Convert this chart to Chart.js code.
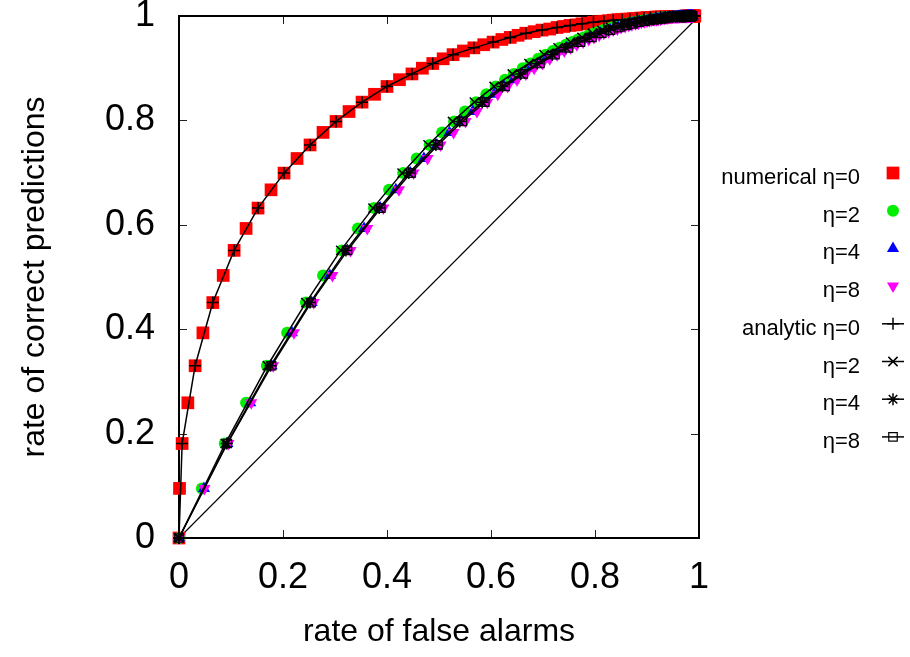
<!DOCTYPE html>
<html><head><meta charset="utf-8">
<script src="https://cdn.jsdelivr.net/npm/chart.js@4/dist/chart.umd.min.js"></script>
<style>html,body{margin:0;padding:0;background:#fff;}canvas{display:block;}</style>
</head><body>
<canvas id="c" width="910" height="657"></canvas>
<script>
// rate of correct predictions (shared by all curves), one per threshold step
const hitRate = [
  0, .095, .181, .259, .330, .393, .451, .503, .551, .593,
  .632, .667, .699, .727, .753, .777, .798, .817, .835, .850,
  .865, .878, .889, .900, .909, .918, .926, .933, .939, .945,
  .950, .955, .959, .963, .967, .970, .973, .975, .978, .980,
  .982, .983, .985, .986, .988, .989, .990, .991, .992, .993,
  .993, .994, .994, .995, .995, .996, .996, .997, .997, .997,
  .998, .998, .998, .998, .998, .998, .999, .999, .999, .999,
  .999, .999, .999, .999, .999, .999, .999, .999, 1, 1,
  1, 1, 1, 1, 1, 1, 1, 1, 1, 1, 1
];
// numerical false alarm rates
const faNum0 = [
  0, .001, .006, .017, .031, .046, .065, .085, .106, .129,
  .152, .177, .202, .227, .252, .277, .302, .327, .352, .376,
  .400, .424, .448, .468, .488, .508, .527, .547, .567, .586,
  .604, .621, .637, .652, .667, .683, .698, .713, .727, .740,
  .752, .764, .775, .786, .797, .807, .817, .826, .835, .844,
  .852, .860, .867, .874, .881, .888, .894, .900, .906, .912,
  .917, .922, .926, .931, .935, .939, .943, .947, .950, .953,
  .956, .959, .962, .965, .967, .969, .971, .973, .975, .977,
  .979, .981, .983, .984, .986, .987, .988, .989, .990, .991, .992
];
const faNum2 = [
  0, .044, .088, .129, .169, .208, .244, .277, .313, .344,
  .375, .404, .431, .457, .482, .506, .529, .550, .571, .591,
  .609, .627, .644, .661, .676, .691, .705, .719, .732, .744,
  .756, .767, .778, .788, .798, .807, .816, .824, .832, .840,
  .847, .854, .861, .867, .874, .879, .885, .890, .895, .900,
  .905, .909, .913, .917, .921, .925, .928, .931, .935, .938,
  .940, .943, .946, .948, .951, .953, .955, .957, .959, .961,
  .963, .965, .966, .968, .969, .971, .972, .973, .974, .976,
  .977, .978, .979, .980, .981, .982, .982, .983, .984, .985, .985
];
const faNum4 = [
  0, .048, .093, .137, .178, .217, .255, .290, .324, .356,
  .387, .417, .445, .471, .496, .520, .543, .565, .586, .606,
  .625, .643, .660, .676, .692, .706, .720, .734, .746, .758,
  .770, .781, .792, .802, .811, .820, .829, .837, .845, .852,
  .859, .866, .872, .878, .884, .890, .895, .900, .905, .909,
  .914, .918, .922, .926, .929, .932, .936, .939, .942, .944,
  .947, .950, .952, .954, .957, .959, .961, .963, .964, .966,
  .968, .969, .971, .972, .973, .975, .976, .977, .978, .979,
  .980, .981, .982, .983, .984, .985, .985, .986, .987, .987, .988
];
const faNum8 = [
  0, .049, .095, .139, .181, .221, .259, .295, .330, .362,
  .393, .423, .451, .478, .503, .528, .551, .573, .593, .613,
  .632, .650, .667, .683, .699, .713, .727, .741, .753, .765,
  .777, .788, .798, .808, .817, .826, .835, .843, .850, .858,
  .865, .871, .878, .884, .889, .895, .900, .905, .909, .914,
  .918, .922, .926, .929, .933, .936, .939, .942, .945, .948,
  .950, .953, .955, .957, .959, .961, .963, .965, .967, .968,
  .970, .971, .973, .974, .975, .976, .978, .979, .980, .981,
  .982, .983, .983, .984, .985, .986, .986, .987, .988, .988, .989
];
// analytic false alarm rates (every second threshold step)
const faAna0 = [
  0, .006, .031, .065, .106, .152, .202, .252, .302, .352,
  .400, .448, .488, .527, .567, .604, .637, .667, .698, .727,
  .752, .775, .797, .817, .835, .852, .867, .881, .894, .906,
  .917, .926, .935, .943, .950, .956, .962, .967, .971, .975,
  .979, .983, .986, .988, .990, .992
];
const faAna2 = [
  0, .089, .170, .244, .311, .373, .429, .479, .526, .568,
  .606, .641, .673, .702, .729, .753, .775, .795, .813, .830,
  .845, .859, .872, .883, .893, .903, .912, .919, .927, .933,
  .939, .945, .950, .954, .958, .962, .965, .968, .971, .974,
  .976, .978, .980, .982, .983, .985
];
const faAna4 = [
  0, .092, .176, .252, .321, .385, .442, .494, .540, .583,
  .622, .657, .689, .718, .744, .767, .789, .809, .826, .843,
  .857, .870, .882, .893, .903, .912, .920, .927, .934, .940,
  .945, .950, .955, .959, .963, .966, .969, .972, .975, .977,
  .979, .981, .983, .984, .986, .987
];
const faAna8 = [
  0, .093, .178, .254, .324, .388, .446, .498, .545, .588,
  .627, .662, .694, .723, .749, .772, .794, .813, .830, .846,
  .860, .873, .885, .896, .906, .914, .922, .929, .936, .942,
  .947, .952, .956, .960, .964, .967, .970, .973, .976, .978,
  .980, .982, .984, .985, .987, .988
];
const diagonalX = [0, 1];
const diagonalY = [0, 1];
const seriesLabels = ['numerical \u03b7=0', '\u03b7=2', '\u03b7=4', '\u03b7=8',
                      'analytic \u03b7=0', '\u03b7=2', '\u03b7=4', '\u03b7=8'];
const tickValues = [0, 0.2, 0.4, 0.6, 0.8, 1];
const tickLabels = ['0', '0.2', '0.4', '0.6', '0.8', '1'];

const FONT = "'Liberation Sans', Arial, Helvetica, sans-serif";
const hitRateEven = hitRate.filter((_, i) => i % 2 === 0);
const pts = (xs, ys) => xs.map((x, i) => ({x: x, y: ys[i]}));

const styles = [
  {pointStyle: 'rect', radius: 9, fill: '#ff0000', stroke: '#ff0000', bw: 0, rot: 0, line: false},
  {pointStyle: 'circle', radius: 6, fill: '#00ee00', stroke: '#00ee00', bw: 0, rot: 0, line: false},
  {pointStyle: 'triangle', radius: 7, fill: '#0000ff', stroke: '#0000ff', bw: 0, rot: 0, line: false},
  {pointStyle: 'triangle', radius: 7, fill: '#ff00ff', stroke: '#ff00ff', bw: 0, rot: 180, line: false},
  {pointStyle: 'cross', radius: 6, fill: 'rgba(0,0,0,0)', stroke: '#000', bw: 1.5, rot: 0, line: true},
  {pointStyle: 'crossRot', radius: 6.5, fill: 'rgba(0,0,0,0)', stroke: '#000', bw: 1.5, rot: 0, line: true},
  {pointStyle: 'star', radius: 6, fill: 'rgba(0,0,0,0)', stroke: '#000', bw: 1.5, rot: 0, line: true},
  {pointStyle: 'rect', radius: 6, fill: 'rgba(0,0,0,0)', stroke: '#000', bw: 1.2, rot: 0, line: true}
];
const seriesData = [
  pts(faNum0, hitRate), pts(faNum2, hitRate), pts(faNum4, hitRate), pts(faNum8, hitRate),
  pts(faAna0, hitRateEven), pts(faAna2, hitRateEven), pts(faAna4, hitRateEven), pts(faAna8, hitRateEven)
];

const datasets = seriesData.map((d, i) => {
  const s = styles[i];
  return {
    label: seriesLabels[i],
    data: d,
    showLine: s.line,
    borderColor: '#000',
    borderWidth: 1.5,
    pointStyle: s.pointStyle,
    pointRadius: s.radius,
    pointRotation: s.rot,
    pointBackgroundColor: s.fill,
    pointBorderColor: s.stroke,
    pointBorderWidth: s.bw,
    clip: false,
    order: 10 - i
  };
});
datasets.push({
  label: 'diagonal',
  data: pts(diagonalX, diagonalY),
  showLine: true,
  borderColor: '#000',
  borderWidth: 1.1,
  pointRadius: 0,
  clip: false,
  order: 20
});

const framePlugin = {
  id: 'frame',
  beforeDatasetsDraw(chart) {
    const {ctx, chartArea: a, scales: {x, y}} = chart;
    ctx.save();
    ctx.strokeStyle = '#222';
    ctx.lineWidth = 1;
    const TL = 8;
    tickValues.forEach(v => {
      if (v === 0 || v === 1) return;
      const px = Math.round(x.getPixelForValue(v)) + 0.5;
      const py = Math.round(y.getPixelForValue(v)) + 0.5;
      ctx.beginPath();
      ctx.moveTo(px, a.bottom); ctx.lineTo(px, a.bottom - TL);
      ctx.moveTo(px, a.top); ctx.lineTo(px, a.top + TL);
      ctx.moveTo(a.left, py); ctx.lineTo(a.left + TL, py);
      ctx.moveTo(a.right, py); ctx.lineTo(a.right - TL, py);
      ctx.stroke();
    });
    ctx.strokeStyle = '#000';
    ctx.lineWidth = 2;
    ctx.strokeRect(a.left, a.top, a.right - a.left, a.bottom - a.top);
    ctx.restore();
  }
};

function drawMarker(ctx, s, x, y) {
  ctx.fillStyle = s.fill;
  ctx.strokeStyle = s.stroke;
  ctx.lineWidth = s.bw;
  if (Chart.helpers && Chart.helpers.drawPoint) {
    Chart.helpers.drawPoint(ctx, {pointStyle: s.pointStyle, radius: s.radius, rotation: s.rot, borderWidth: s.bw}, x, y);
  }
}

const legendPlugin = {
  id: 'customLegend',
  afterDraw(chart) {
    const ctx = chart.ctx;
    ctx.save();
    const textRight = 860, markX = 893, top = 173, step = 37.7;
    ctx.font = '22px ' + FONT;
    ctx.textAlign = 'right';
    ctx.textBaseline = 'middle';
    seriesLabels.forEach((lab, i) => {
      const yy = top + i * step;
      ctx.fillStyle = '#000';
      ctx.fillText(lab, textRight, yy + 5);
      const s = styles[i];
      if (s.line) {
        ctx.strokeStyle = '#000';
        ctx.lineWidth = 1.5;
        ctx.beginPath();
        ctx.moveTo(markX - 11, yy); ctx.lineTo(markX + 11, yy);
        ctx.stroke();
      }
      drawMarker(ctx, s, markX, yy);
    });
    ctx.restore();
  }
};

new Chart(document.getElementById('c'), {
  type: 'scatter',
  data: {datasets: datasets},
  options: {
    responsive: false,
    animation: false,
    events: [],
    layout: {padding: {left: 0, right: 211, top: 16, bottom: 0}},
    plugins: {legend: {display: false}, tooltip: {enabled: false}},
    scales: {
      x: {
        type: 'linear', min: 0, max: 1,
        afterBuildTicks: s => { s.ticks = tickValues.map(v => ({value: v})); },
        ticks: {
          callback: (v) => tickLabels[tickValues.indexOf(v)] ?? '',
          font: {family: FONT, size: 36}, color: '#000', padding: 18, maxRotation: 0, autoSkip: false
        },
        grid: {display: false, drawTicks: false},
        border: {display: false},
        title: {display: true, text: 'rate of false alarms', color: '#000',
                font: {family: FONT, size: 32}, padding: {top: 0, bottom: 6}},
        afterFit: s => { s.height = 119; s.paddingLeft = 0; s.paddingRight = 0; }
      },
      y: {
        type: 'linear', min: 0, max: 1,
        afterBuildTicks: s => { s.ticks = tickValues.map(v => ({value: v})); },
        ticks: {
          callback: (v) => tickLabels[tickValues.indexOf(v)] ?? '',
          font: {family: FONT, size: 36}, color: '#000', padding: 24, autoSkip: false
        },
        grid: {display: false, drawTicks: false},
        border: {display: false},
        title: {display: true, text: 'rate of correct predictions', color: '#000',
                font: {family: FONT, size: 32}, padding: {top: 16, bottom: 0}},
        afterFit: s => { s.width = 179; s.paddingTop = 0; s.paddingBottom = 0; }
      }
    }
  },
  plugins: [framePlugin, legendPlugin]
});
</script>
</body></html>
